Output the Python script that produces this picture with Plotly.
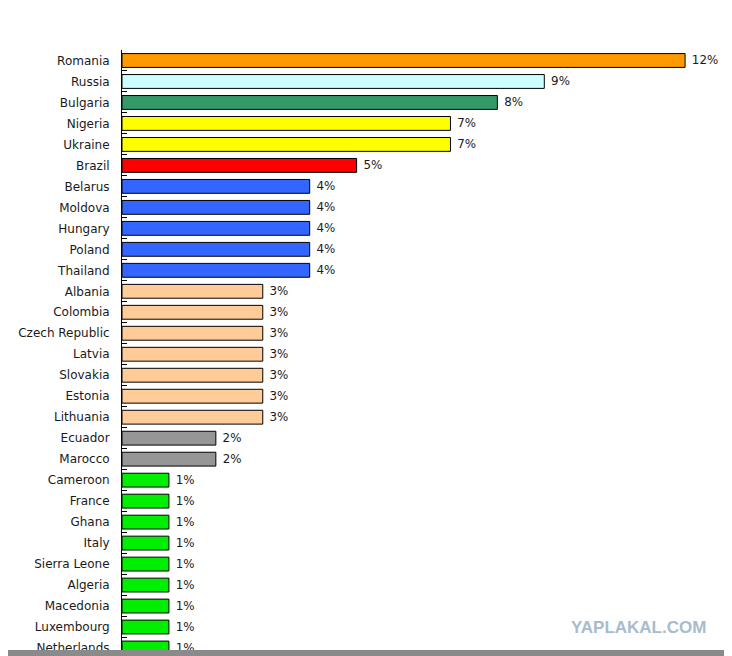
import plotly.graph_objects as go

countries = [
    "Romania", "Russia", "Bulgaria", "Nigeria", "Ukraine", "Brazil",
    "Belarus", "Moldova", "Hungary", "Poland", "Thailand",
    "Albania", "Colombia", "Czech Republic", "Latvia", "Slovakia", "Estonia", "Lithuania",
    "Ecuador", "Marocco",
    "Cameroon", "France", "Ghana", "Italy", "Sierra Leone", "Algeria",
    "Macedonia", "Luxembourg", "Netherlands",
]
shares = [12, 9, 8, 7, 7, 5,
          4, 4, 4, 4, 4,
          3, 3, 3, 3, 3, 3, 3,
          2, 2,
          1, 1, 1, 1, 1, 1, 1, 1, 1]
bar_colors = (["#ff9900", "#ccffff", "#339966", "#ffff00", "#ffff00", "#ff0000"]
              + ["#3366ff"] * 5 + ["#ffcc99"] * 7 + ["#969696"] * 2 + ["#00ee00"] * 9)

# page has an 8px body margin, plot area wanted at x 122..732, y 49.5..656
left, top = 114, 41.5
plot_w, plot_h = 610, 606.5
rows_shown = plot_h / 21  # 21px per row

fig = go.Figure()
fig.add_trace(go.Bar(
    x=shares, y=countries, orientation="h",
    marker=dict(color=bar_colors, line=dict(color="black", width=1)),
    width=0.66,
    text=[f" {v}%" for v in shares], textposition="outside", cliponaxis=False,
    textfont=dict(family="DejaVu Sans", size=12, color="#1a1a1a"),
))

fig.update_layout(
    width=724, height=648, autosize=False,
    margin=dict(l=left, r=0, t=top, b=0, autoexpand=False),
    plot_bgcolor="white", paper_bgcolor="white", showlegend=False,
    font=dict(family="DejaVu Sans", size=12, color="#1a1a1a"),
    annotations=[dict(text="<b>YAPLAKAL.COM</b>", xref="paper", yref="paper",
                      x=(638 - 122) / plot_w, y=(656 - 627) / plot_h,
                      showarrow=False, xanchor="center", yanchor="middle",
                      font=dict(family="Liberation Sans", size=17, color="#a7bccc"))],
    shapes=[dict(type="rect", xref="paper", yref="paper", x0=-122 / plot_w, x1=1,
                 y0=0, y1=6 / plot_h, fillcolor="#8a8a8a", line=dict(width=0), layer="above")],
)

fig.update_xaxes(visible=False, range=[0, 13], fixedrange=True)
fig.update_yaxes(range=[rows_shown - 0.5, -0.5], showline=True, linecolor="black", linewidth=1,
                 ticks="inside", ticklen=5, tickcolor="black", tickson="boundaries",
                 ticklabelstandoff=9, showgrid=False, zeroline=False, automargin=False)

fig.write_html("out.html")
